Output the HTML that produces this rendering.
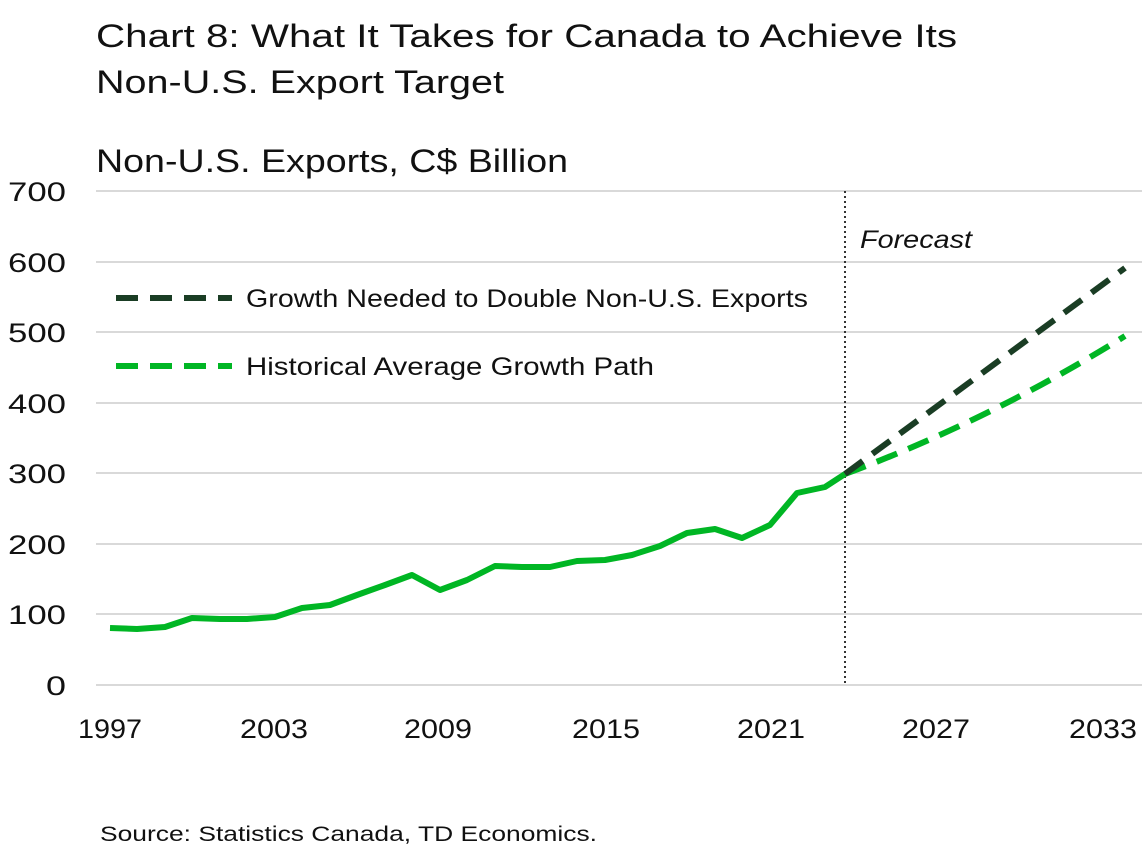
<!DOCTYPE html>
<html><head><meta charset="utf-8"><style>
body{margin:0;background:#fff;}
svg text{font-family:"Liberation Sans",sans-serif;fill:#111;}
</style></head><body>
<svg width="1142" height="850" viewBox="0 0 1142 850" xmlns="http://www.w3.org/2000/svg">
<text x="96" y="47" font-size="32" textLength="861" lengthAdjust="spacingAndGlyphs">Chart 8: What It Takes for Canada to Achieve Its</text>
<text x="96" y="93" font-size="32" textLength="408" lengthAdjust="spacingAndGlyphs">Non-U.S. Export Target</text>
<text x="96" y="172" font-size="32" textLength="472" lengthAdjust="spacingAndGlyphs">Non-U.S. Exports, C$ Billion</text>
<g stroke="#d9d9d9" stroke-width="2">
<line x1="96" x2="1142" y1="191" y2="191"/><line x1="96" x2="1142" y1="262" y2="262"/>
<line x1="96" x2="1142" y1="332" y2="332"/><line x1="96" x2="1142" y1="403" y2="403"/>
<line x1="96" x2="1142" y1="473" y2="473"/><line x1="96" x2="1142" y1="544" y2="544"/>
<line x1="96" x2="1142" y1="614" y2="614"/><line x1="96" x2="1142" y1="685" y2="685"/>
</g>
<g font-size="27">
<text x="8" y="201" textLength="58" lengthAdjust="spacingAndGlyphs">700</text>
<text x="8" y="272" textLength="58" lengthAdjust="spacingAndGlyphs">600</text>
<text x="8" y="342" textLength="58" lengthAdjust="spacingAndGlyphs">500</text>
<text x="8" y="413" textLength="58" lengthAdjust="spacingAndGlyphs">400</text>
<text x="8" y="483" textLength="58" lengthAdjust="spacingAndGlyphs">300</text>
<text x="8" y="554" textLength="58" lengthAdjust="spacingAndGlyphs">200</text>
<text x="8" y="624" textLength="58" lengthAdjust="spacingAndGlyphs">100</text>
<text x="46" y="695" textLength="20" lengthAdjust="spacingAndGlyphs">0</text>
</g>
<g font-size="27">
<text x="78" y="738" textLength="64" lengthAdjust="spacingAndGlyphs">1997</text>
<text x="240" y="738" textLength="68" lengthAdjust="spacingAndGlyphs">2003</text>
<text x="404" y="738" textLength="68" lengthAdjust="spacingAndGlyphs">2009</text>
<text x="572" y="738" textLength="68" lengthAdjust="spacingAndGlyphs">2015</text>
<text x="737" y="738" textLength="68" lengthAdjust="spacingAndGlyphs">2021</text>
<text x="902" y="738" textLength="68" lengthAdjust="spacingAndGlyphs">2027</text>
<text x="1069" y="738" textLength="68" lengthAdjust="spacingAndGlyphs">2033</text>
</g>
<line x1="845" x2="845" y1="191" y2="685" stroke="#333" stroke-width="2" stroke-dasharray="2,3"/>
<text x="860" y="248" font-size="25" font-style="italic" textLength="112" lengthAdjust="spacingAndGlyphs">Forecast</text>
<polyline fill="none" stroke="#00b624" stroke-width="6" stroke-linejoin="round" points="110,628 137,629 165,627 192,618 220,619 247,619 275,617 302,608 330,605 357,595 385,585 412,575 440,590 467,580 495,566 522,567 550,567 577,561 605,560 632,555 660,546 687,533 715,529 742,538 770,525 797,493 825,487 845,474"/>
<path d="M845,474 Q990,420 1125,336" fill="none" stroke="#00b624" stroke-width="6" stroke-dasharray="22,12"/>
<path d="M845,474 L1125,268" fill="none" stroke="#1a3d24" stroke-width="6" stroke-dasharray="22,12"/>
<line x1="116" x2="232" y1="298" y2="298" stroke="#1a3d24" stroke-width="6" stroke-dasharray="22,12"/>
<text x="246" y="307" font-size="25" textLength="562" lengthAdjust="spacingAndGlyphs">Growth Needed to Double Non-U.S. Exports</text>
<line x1="116" x2="232" y1="366" y2="366" stroke="#00b624" stroke-width="6" stroke-dasharray="22,12"/>
<text x="246" y="375" font-size="25" textLength="408" lengthAdjust="spacingAndGlyphs">Historical Average Growth Path</text>
<text x="100" y="841" font-size="21" textLength="497" lengthAdjust="spacingAndGlyphs">Source: Statistics Canada, TD Economics.</text>
</svg>
</body></html>
